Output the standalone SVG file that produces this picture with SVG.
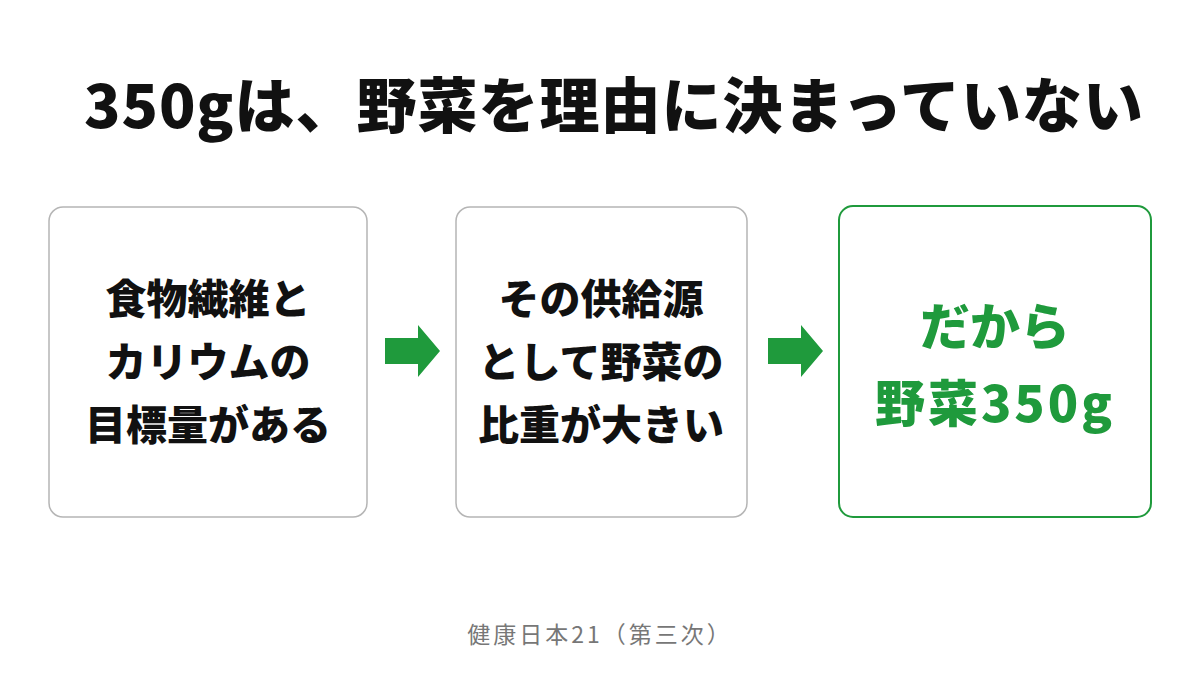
<svg xmlns="http://www.w3.org/2000/svg" width="1200" height="675" viewBox="0 0 1200 675">
<style>
.t{font-family:"Noto Sans CJK JP","Noto Sans",sans-serif;font-weight:900;text-anchor:middle}
.box{fill:#fff;stroke:#b5b5b5;stroke-width:1.5}
.g{fill:#1f9a3c}
</style>
<rect width="1200" height="675" fill="#fff"/>
<text class="t" x="614" y="128" font-size="60" fill="#111" letter-spacing="1">350gは、野菜を理由に決まっていない</text>
<g id="n1"><rect class="box" x="49" y="207" width="318" height="310" rx="14"/>
<text class="t" font-size="41" fill="#111"><tspan x="208" y="314">食物繊維と</tspan><tspan x="208" y="377">カリウムの</tspan><tspan x="208" y="440">目標量がある</tspan></text></g>
<g id="n2"><rect class="box" x="456" y="207" width="291" height="310" rx="14"/>
<text class="t" font-size="41" fill="#111"><tspan x="601" y="314">その供給源</tspan><tspan x="601" y="377">として野菜の</tspan><tspan x="601" y="440">比重が大きい</tspan></text></g>
<g id="n3"><rect x="839" y="206" width="312" height="311" rx="14" fill="#fff" stroke="#1f9a3c" stroke-width="2"/>
<text class="t" font-size="50" fill="#1f9a3c"><tspan x="995" y="345">だから</tspan><tspan x="995" y="422" letter-spacing="3">野菜350g</tspan></text></g>
<g id="connectors">
<path class="g" d="M385 338H418V325L440 351L418 377V364H385Z"/>
<path class="g" d="M768 338H801V325L823 351L801 377V364H768Z"/>
</g>
<text x="600" y="643" font-family="Noto Sans CJK JP,sans-serif" font-size="23" fill="#777" text-anchor="middle" letter-spacing="3">健康日本21（第三次）</text>
</svg>
